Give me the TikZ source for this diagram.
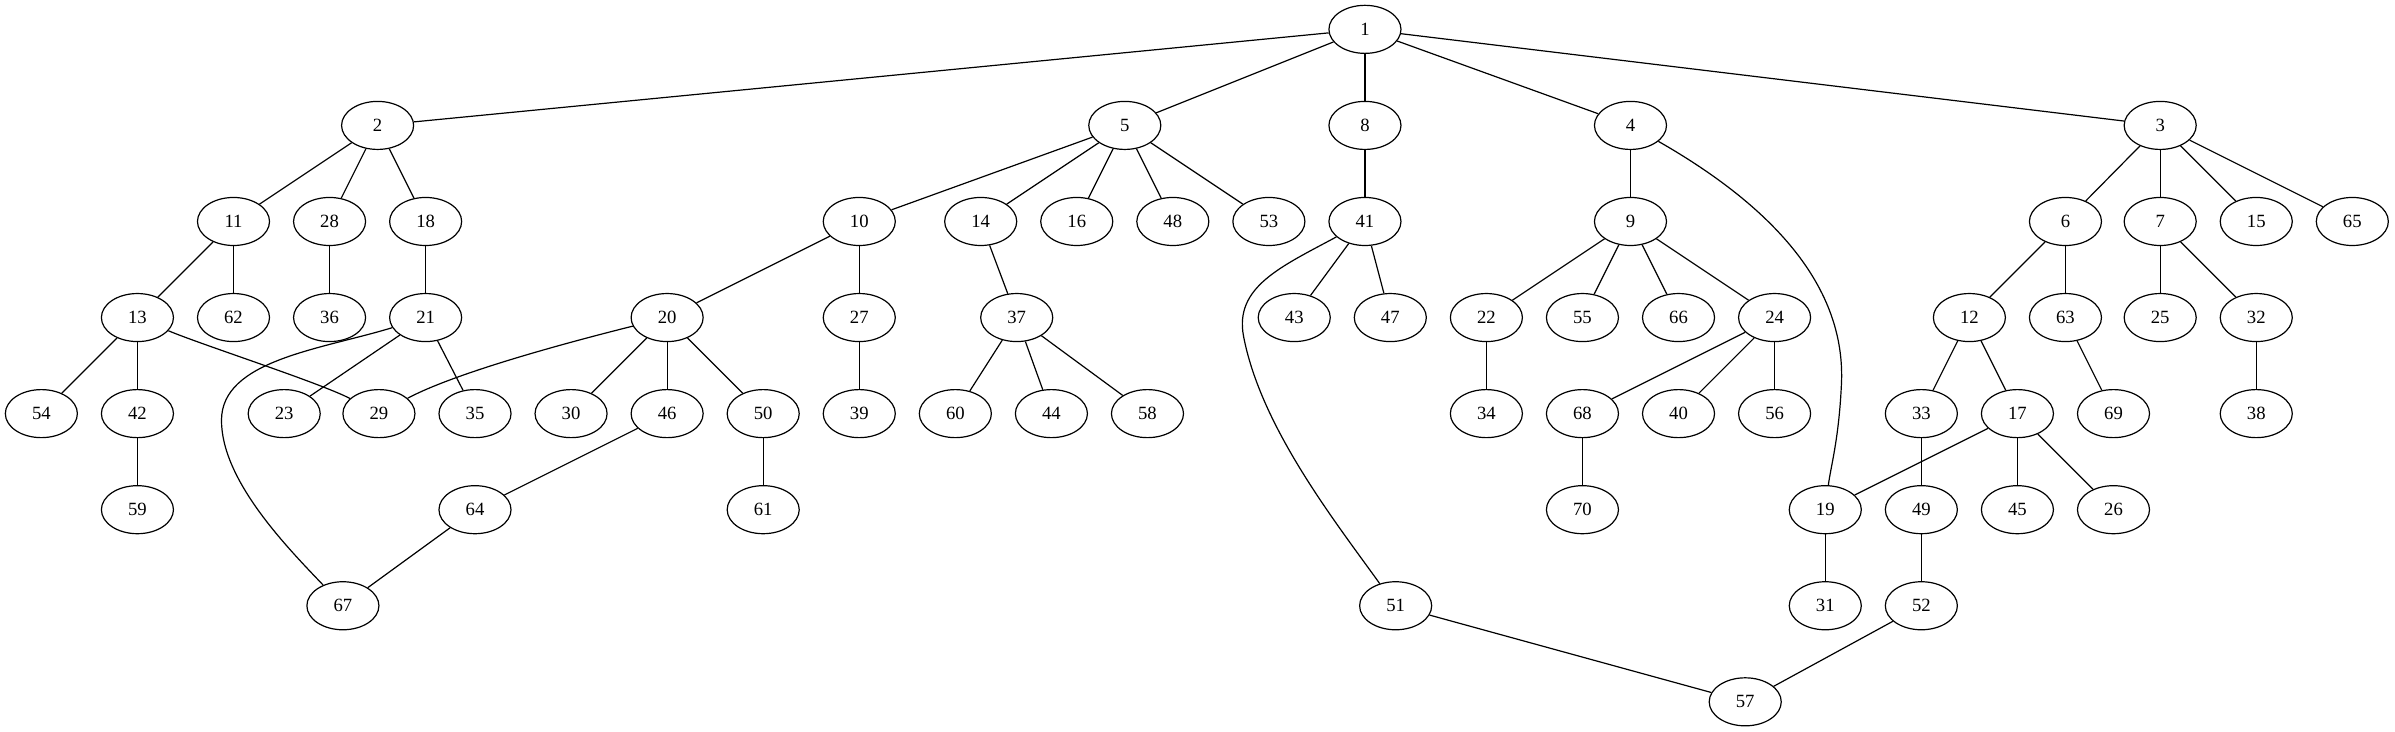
\documentclass[tikz,border=0pt]{standalone}
\usepackage{fontspec}
\setmainfont{Liberation Serif}
\usetikzlibrary{shapes.geometric}
\tikzset{nd/.style={draw,ellipse,minimum width=54pt,minimum height=36pt,inner sep=0pt,line width=0.9pt,font=\fontsize{14pt}{16pt}\selectfont},
ed/.style={line width=0.9pt}}
\begin{document}
\begin{tikzpicture}[x=1pt,y=-1pt]
\useasboundingbox (0,0) rectangle (1795,548);
% L0
\node[nd] (n1) at (1023,22) {1};
% L1
\foreach \n/\x in {2/283,5/843,8/1023,4/1222,3/1619} \node[nd] (n\n) at (\x,94) {\n};
% L2
\foreach \n/\x in {11/175,28/247,18/319,10/644,14/735,16/807,48/879,53/951,41/1023,9/1222,6/1548,7/1619,15/1691,65/1763} \node[nd] (n\n) at (\x,166) {\n};
% L3
\foreach \n/\x in {13/103,62/175,36/247,21/319,20/500,27/644,37/762,43/970,47/1042,22/1114,55/1186,66/1258,24/1330,12/1476,63/1548,25/1619,32/1691} \node[nd] (n\n) at (\x,238) {\n};
% L4
\foreach \n/\x in {54/31,42/103,23/213,29/284,35/356,30/428,46/500,50/572,39/644,60/716,44/788,58/860,34/1114,68/1186,40/1258,56/1330,33/1440,17/1512,69/1584,38/1691} \node[nd] (n\n) at (\x,310) {\n};
% L5
\foreach \n/\x in {59/103,64/356,61/572,70/1186,19/1368,49/1440,45/1512,26/1584} \node[nd] (n\n) at (\x,382) {\n};
% L6
\foreach \n/\x in {67/257,51/1046,31/1368,52/1440} \node[nd] (n\n) at (\x,454) {\n};
% L7
\node[nd] (n57) at (1308,526) {57};
% straight edges
\foreach \a/\b in {1/2,1/5,1/8,1/4,1/3,2/11,2/28,2/18,5/10,5/14,5/16,5/48,5/53,8/41,4/9,3/6,3/7,3/15,3/65,
11/13,11/62,28/36,18/21,10/20,10/27,14/37,41/43,41/47,9/22,9/55,9/66,9/24,6/12,6/63,7/25,7/32,
13/54,13/42,21/23,21/35,20/30,20/46,20/50,27/39,37/60,37/44,37/58,22/34,24/68,24/40,24/56,12/33,12/17,63/69,32/38,
42/59,46/64,50/61,68/70,33/49,17/19,17/45,17/26,49/52,19/31,64/67,52/57,51/57}
  \draw[ed] (n\a) -- (n\b);
% curved edges
\draw[ed] (n13) .. controls (150,258) and (240,287) .. (n29);
\draw[ed] (n20) .. controls (420,258) and (340,280) .. (n29);
\draw[ed] (n21) .. controls (240,262) and (166,270) .. (166,315) .. controls (166,360) and (215,410) .. (n67);
\draw[ed] (n41) .. controls (960,200) and (925,215) .. (932,252) .. controls (945,320) and (1000,390) .. (n51);
\draw[ed] (n4) .. controls (1320,150) and (1385,210) .. (1380,290) .. controls (1378,330) and (1372,350) .. (n19);
\end{tikzpicture}
\end{document}
